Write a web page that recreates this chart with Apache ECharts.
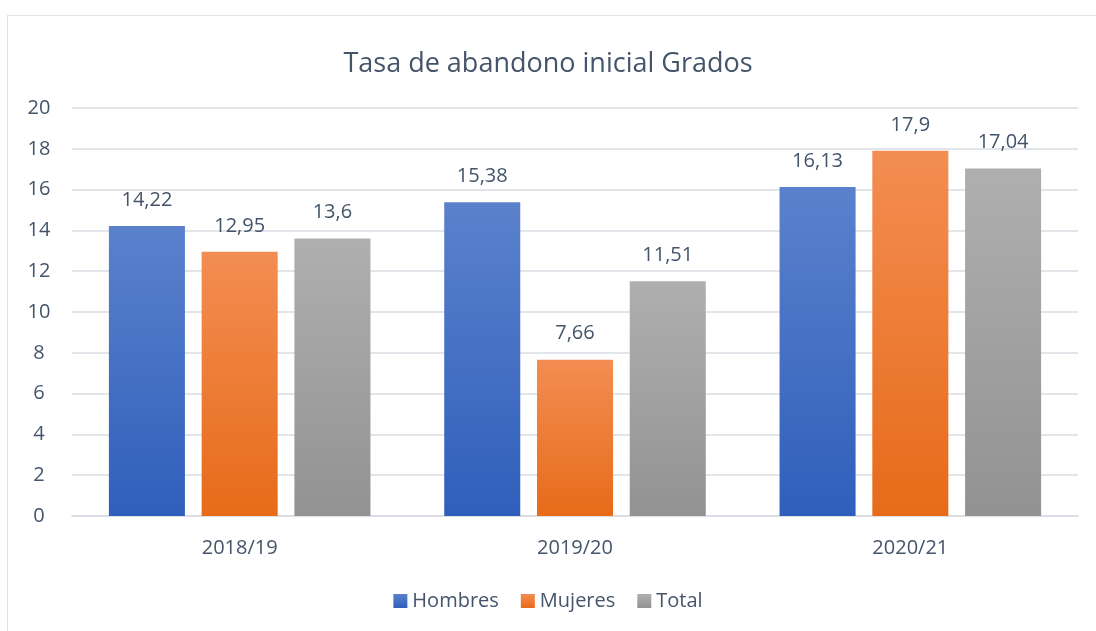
<!DOCTYPE html>
<html>
<head>
<meta charset="utf-8">
<script src="https://cdn.jsdelivr.net/npm/echarts@6/dist/echarts.min.js"></script>
<style>
  html, body { margin: 0; padding: 0; background: #fff; overflow: hidden; }
  #frame { position: absolute; left: 7px; top: 15px; width: 1200px; height: 700px; border: 1.5px solid #dfe3e8; }
  #chart { position: absolute; left: 0; top: 0; width: 1096px; height: 631px; }
</style>
</head>
<body>
<div id="frame"></div>
<div id="chart"></div>
<script>
const categories = ['2018/19', '2019/20', '2020/21'];
const hombres = [14.22, 15.38, 16.13];
const mujeres = [12.95, 7.66, 17.9];
const total = [13.6, 11.51, 17.04];
const yTicks = [0, 2, 4, 6, 8, 10, 12, 14, 16, 18, 20];

const chart = echarts.init(document.getElementById('chart'));
const textColor = '#44546a';
const font = 'Open Sans';

const grad = (top, bottom) => new echarts.graphic.LinearGradient(0, 0, 0, 1, [
  { offset: 0, color: top },
  { offset: 1, color: bottom }
]);

const makeSeries = (name, data, top, bottom) => ({
  name: name,
  type: 'bar',
  data: data,
  barGap: '22%',
  barCategoryGap: '22%',
  itemStyle: { color: grad(top, bottom) },
  label: {
    show: true,
    position: 'top',
    distance: 16,
    color: textColor,
    fontFamily: font,
    fontSize: 20,
    formatter: p => String(p.value).replace('.', ',')
  }
});

chart.setOption({
  animation: false,
  title: {
    text: 'Tasa de abandono inicial Grados',
    left: 'center',
    top: 46,
    textStyle: { color: textColor, fontFamily: font, fontSize: 27, fontWeight: 'normal' }
  },
  grid: { left: 72, right: 18, top: 108, bottom: 115 },
  legend: {
    bottom: 15,
    left: 'center',
    itemWidth: 14,
    itemHeight: 14,
    itemGap: 22,
    icon: 'rect',
    textStyle: { color: textColor, fontFamily: font, fontSize: 20 },
    data: ['Hombres', 'Mujeres', 'Total']
  },
  xAxis: {
    type: 'category',
    data: categories,
    axisTick: { show: false },
    axisLine: { lineStyle: { color: '#d9dde3', width: 1.5 } },
    axisLabel: { color: textColor, fontFamily: font, fontSize: 20, margin: 22 }
  },
  yAxis: {
    type: 'value',
    min: yTicks[0],
    max: yTicks[yTicks.length - 1],
    interval: 2,
    axisLine: { show: false },
    axisTick: { show: false },
    splitLine: { lineStyle: { color: '#d9dde3', width: 1.5 } },
    axisLabel: { color: textColor, fontFamily: font, fontSize: 20, margin: 33, align: 'center' }
  },
  series: [
    makeSeries('Hombres', hombres, '#5b81cc', '#2f5fbb'),
    makeSeries('Mujeres', mujeres, '#f38d52', '#e76b19'),
    makeSeries('Total', total, '#afafaf', '#929292')
  ]
});
</script>
</body>
</html>
